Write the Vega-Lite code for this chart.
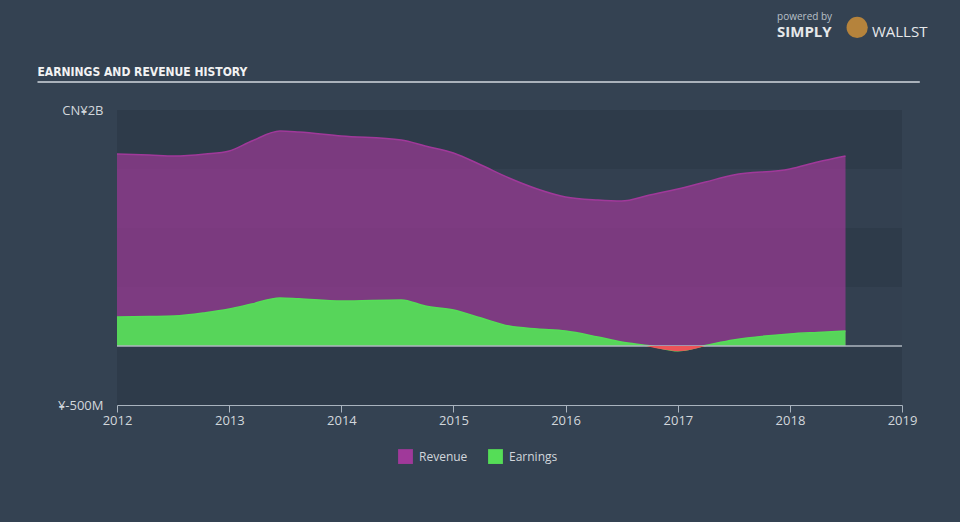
{
  "$schema": "https://vega.github.io/schema/vega-lite/v6.json",
  "width": 785,
  "height": 295,
  "autosize": {"type": "none"},
  "padding": {"top": 110, "left": 117, "right": 58, "bottom": 117},
  "background": "#344252",
  "config": {
    "view": {"stroke": null, "fill": "#2e3b4a"},
    "font": "Open Sans"
  },
  "datasets": {
    "history": [
      {"date": "2012-01-01", "series": "Revenue", "value": 1627},
      {"date": "2012-04-15", "series": "Revenue", "value": 1619},
      {"date": "2012-07-05", "series": "Revenue", "value": 1610},
      {"date": "2012-10-15", "series": "Revenue", "value": 1627},
      {"date": "2013-01-01", "series": "Revenue", "value": 1653},
      {"date": "2013-03-15", "series": "Revenue", "value": 1737},
      {"date": "2013-06-15", "series": "Revenue", "value": 1822},
      {"date": "2013-08-15", "series": "Revenue", "value": 1814},
      {"date": "2014-01-01", "series": "Revenue", "value": 1780},
      {"date": "2014-07-15", "series": "Revenue", "value": 1746},
      {"date": "2014-10-01", "series": "Revenue", "value": 1695},
      {"date": "2015-01-01", "series": "Revenue", "value": 1636},
      {"date": "2015-04-01", "series": "Revenue", "value": 1534},
      {"date": "2015-07-01", "series": "Revenue", "value": 1424},
      {"date": "2015-10-01", "series": "Revenue", "value": 1331},
      {"date": "2016-01-01", "series": "Revenue", "value": 1263},
      {"date": "2016-04-15", "series": "Revenue", "value": 1237},
      {"date": "2016-07-01", "series": "Revenue", "value": 1229},
      {"date": "2016-10-01", "series": "Revenue", "value": 1280},
      {"date": "2017-01-01", "series": "Revenue", "value": 1331},
      {"date": "2017-04-01", "series": "Revenue", "value": 1390},
      {"date": "2017-07-01", "series": "Revenue", "value": 1449},
      {"date": "2018-01-01", "series": "Revenue", "value": 1500},
      {"date": "2018-04-01", "series": "Revenue", "value": 1559},
      {"date": "2018-07-01", "series": "Revenue", "value": 1610},
      {"date": "2012-01-01", "series": "Earnings", "value": 246},
      {"date": "2012-04-15", "series": "Earnings", "value": 250},
      {"date": "2012-07-05", "series": "Earnings", "value": 254},
      {"date": "2012-10-15", "series": "Earnings", "value": 282},
      {"date": "2013-01-01", "series": "Earnings", "value": 314},
      {"date": "2013-03-15", "series": "Earnings", "value": 356},
      {"date": "2013-06-15", "series": "Earnings", "value": 407},
      {"date": "2013-08-15", "series": "Earnings", "value": 400},
      {"date": "2014-01-01", "series": "Earnings", "value": 381},
      {"date": "2014-07-15", "series": "Earnings", "value": 390},
      {"date": "2014-10-01", "series": "Earnings", "value": 339},
      {"date": "2015-01-01", "series": "Earnings", "value": 305},
      {"date": "2015-04-01", "series": "Earnings", "value": 237},
      {"date": "2015-07-01", "series": "Earnings", "value": 169},
      {"date": "2015-10-01", "series": "Earnings", "value": 144},
      {"date": "2016-01-01", "series": "Earnings", "value": 127},
      {"date": "2016-04-15", "series": "Earnings", "value": 76},
      {"date": "2016-07-01", "series": "Earnings", "value": 34},
      {"date": "2016-10-01", "series": "Earnings", "value": 2},
      {"date": "2017-01-01", "series": "Earnings", "value": -40},
      {"date": "2017-04-01", "series": "Earnings", "value": 5},
      {"date": "2017-07-01", "series": "Earnings", "value": 51},
      {"date": "2018-01-01", "series": "Earnings", "value": 102},
      {"date": "2018-04-01", "series": "Earnings", "value": 115},
      {"date": "2018-07-01", "series": "Earnings", "value": 127}
    ],
    "loss": [
      {"date": "2016-09-20", "value": 0},
      {"date": "2016-11-15", "value": -30},
      {"date": "2017-01-01", "value": -44},
      {"date": "2017-02-15", "value": -30},
      {"date": "2017-03-30", "value": 0}
    ],
    "bands": [
      {"low": 1000, "high": 1500},
      {"low": 0, "high": 500}
    ]
  },
  "layer": [
    {
      "data": {"name": "bands"},
      "mark": {"type": "rect", "color": "#334050"},
      "encoding": {
        "y": {"field": "low", "type": "quantitative"},
        "y2": {"field": "high"}
      }
    },
    {
      "data": {"name": "history"},
      "transform": [{"filter": "datum.series == 'Revenue'"}],
      "mark": {"type": "area", "interpolate": "monotone", "fillOpacity": 0.68, "line": {"color": "#c42fa8", "strokeWidth": 1.5}},
      "encoding": {
        "x": {"field": "date", "type": "temporal"},
        "y": {"field": "value", "type": "quantitative", "stack": null},
        "color": {"field": "series", "type": "nominal"}
      }
    },
    {
      "data": {"name": "history"},
      "transform": [{"filter": "datum.series == 'Earnings'"}],
      "mark": {"type": "area", "interpolate": "monotone", "fillOpacity": 0.95, "line": {"color": "#53d65a", "strokeWidth": 1.5}},
      "encoding": {
        "x": {"field": "date", "type": "temporal"},
        "y": {"field": "value", "type": "quantitative", "stack": null},
        "color": {"field": "series", "type": "nominal"}
      }
    },
    {
      "data": {"values": [{}]},
      "mark": {"type": "rule", "color": "#aeb6bf", "strokeWidth": 1.5},
      "encoding": {"y": {"datum": 0}}
    },
    {
      "data": {"name": "loss"},
      "mark": {"type": "area", "interpolate": "monotone", "color": "#ec5458", "opacity": 1},
      "encoding": {
        "x": {"field": "date", "type": "temporal"},
        "y": {"field": "value", "type": "quantitative", "stack": null}
      }
    },
    {
      "data": {"values": [{}]},
      "mark": {"type": "rule", "color": "#aab2bb", "strokeWidth": 2},
      "encoding": {
        "x": {"datum": {"year": 2011, "month": 4, "date": 17}},
        "x2": {"datum": {"year": 2019, "month": 2, "date": 28}},
        "y": {"datum": 2237}
      }
    },
    {
      "data": {"values": [{"label": "EARNINGS AND REVENUE HISTORY"}]},
      "mark": {"type": "text", "align": "left", "baseline": "alphabetic", "fontSize": 12, "fontWeight": "bold", "font": "DejaVu Sans Condensed, Roboto, sans-serif", "color": "#f2f2f2"},
      "encoding": {
        "x": {"datum": {"year": 2011, "month": 4, "date": 17}},
        "y": {"datum": 2288},
        "text": {"field": "label"}
      }
    },
    {
      "data": {"values": [{"label": "powered by"}]},
      "mark": {"type": "text", "align": "left", "baseline": "middle", "fontSize": 10, "color": "#b8c0c8"},
      "encoding": {
        "x": {"datum": {"year": 2017, "month": 11, "date": 20}},
        "y": {"datum": 2792},
        "text": {"field": "label"}
      }
    },
    {
      "data": {"values": [{"label": "SIMPLY"}]},
      "mark": {"type": "text", "align": "left", "baseline": "middle", "fontSize": 15, "fontWeight": "bold", "color": "#e6e8ea"},
      "encoding": {
        "x": {"datum": {"year": 2017, "month": 11, "date": 20}},
        "y": {"datum": 2662},
        "text": {"field": "label"}
      }
    },
    {
      "data": {"values": [{"label": "WALLST"}]},
      "mark": {"type": "text", "align": "left", "baseline": "middle", "fontSize": 15, "color": "#e6e8ea"},
      "encoding": {
        "x": {"datum": {"year": 2018, "month": 9, "date": 25}},
        "y": {"datum": 2662},
        "text": {"field": "label"}
      }
    },
    {
      "data": {"values": [{}]},
      "mark": {"type": "point", "shape": "circle", "filled": true, "size": 450, "color": "#b5833c", "opacity": 1},
      "encoding": {
        "x": {"datum": {"year": 2018, "month": 8, "date": 8}},
        "y": {"datum": 2700}
      }
    }
  ],
  "resolve": {"scale": {"x": "shared", "y": "shared"}},
  "encoding": {
    "x": {
      "type": "temporal",
      "scale": {"domain": [{"year": 2012, "month": 1, "date": 1}, {"year": 2019, "month": 1, "date": 1}], "nice": false},
      "axis": {
        "title": null,
        "format": "%Y",
        "tickCount": {"interval": "year", "step": 1},
        "domainColor": "#a9b3be",
        "tickColor": "#a9b3be",
        "tickSize": 7,
        "labelColor": "#d2d7dc",
        "labelFontSize": 13,
        "labelPadding": 2,
        "grid": false,
        "labelFlush": false
      }
    },
    "y": {
      "type": "quantitative",
      "scale": {"domain": [-500, 2000], "nice": false, "zero": false},
      "axis": {
        "title": null,
        "values": [-500, 2000],
        "labelExpr": "datum.value == 2000 ? 'CN¥2B' : '¥-500M'",
        "domain": false,
        "ticks": false,
        "grid": false,
        "labelColor": "#d2d7dc",
        "labelFontSize": 13,
        "labelPadding": 14
      }
    },
    "color": {
      "scale": {"domain": ["Revenue", "Earnings"], "range": ["#a0399a", "#55dd57"]},
      "legend": {
        "title": null,
        "orient": "none",
        "legendX": 281,
        "legendY": 339,
        "direction": "horizontal",
        "symbolType": "square",
        "symbolSize": 220,
        "symbolStrokeWidth": 0,
        "symbolOpacity": 1,
        "labelColor": "#d2d7dc",
        "labelFontSize": 12,
        "columnPadding": 20,
        "labelOffset": 6
      }
    }
  }
}
